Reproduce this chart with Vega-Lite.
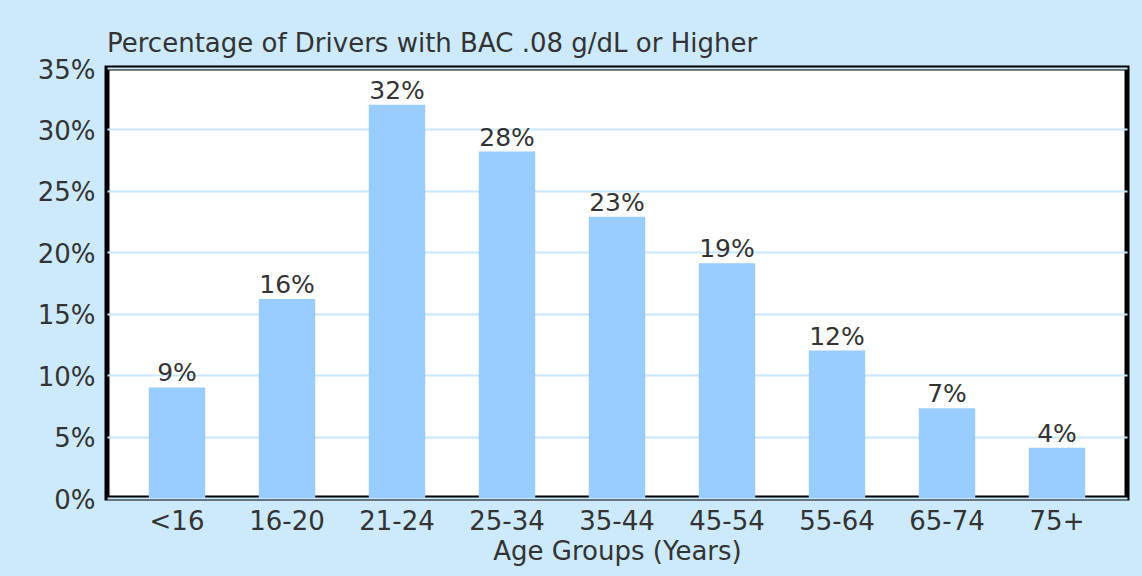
{
  "$schema": "https://vega.github.io/schema/vega-lite/v6.json",
  "width": 1020,
  "height": 430,
  "autosize": {"type": "none"},
  "padding": {"left": 107, "top": 68, "right": 15, "bottom": 78},
  "background": "#cdeafd",
  "title": {
    "text": "Percentage of Drivers with BAC .08 g/dL or Higher",
    "anchor": "start",
    "frame": "group",
    "fontSize": 26,
    "fontWeight": "normal",
    "font": "DejaVu Sans",
    "color": "#333333",
    "baseline": "bottom",
    "offset": -26
  },
  "config": {
    "font": "DejaVu Sans",
    "view": {"fill": "#ffffff", "stroke": "#000000", "strokeWidth": 5}
  },
  "data": {
    "values": [
      {"age": "<16", "pct": 0.090},
      {"age": "16-20", "pct": 0.162},
      {"age": "21-24", "pct": 0.320},
      {"age": "25-34", "pct": 0.282},
      {"age": "35-44", "pct": 0.229},
      {"age": "45-54", "pct": 0.191},
      {"age": "55-64", "pct": 0.120},
      {"age": "65-74", "pct": 0.073},
      {"age": "75+", "pct": 0.041}
    ]
  },
  "encoding": {
    "x": {
      "field": "age",
      "type": "nominal",
      "sort": null,
      "scale": {"paddingInner": 0.487, "paddingOuter": 0.38},
      "axis": {
        "labelAngle": 0,
        "ticks": false,
        "domain": false,
        "labelFontSize": 26,
        "labelColor": "#333333",
        "labelPadding": 10,
        "title": "Age Groups (Years)",
        "titleFontSize": 26,
        "titleFontWeight": "normal",
        "titleColor": "#333333",
        "titlePadding": 4
      }
    },
    "y": {
      "field": "pct",
      "type": "quantitative",
      "scale": {"domain": [0, 0.35], "nice": false},
      "axis": {
        "values": [0, 0.05, 0.1, 0.15, 0.2, 0.25, 0.3, 0.35],
        "format": ".0%",
        "title": null,
        "ticks": false,
        "domain": false,
        "grid": true,
        "gridColor": "#c8e8fb",
        "gridWidth": 2,
        "labelFontSize": 26,
        "labelColor": "#333333",
        "labelPadding": 12,
        "labelOffset": 2
      }
    }
  },
  "layer": [
    {"mark": {"type": "bar", "color": "#99ccff"}},
    {
      "mark": {"type": "text", "baseline": "alphabetic", "dy": -6, "fontSize": 25, "color": "#333333"},
      "encoding": {"text": {"field": "pct", "type": "quantitative", "format": ".0%"}}
    }
  ]
}
